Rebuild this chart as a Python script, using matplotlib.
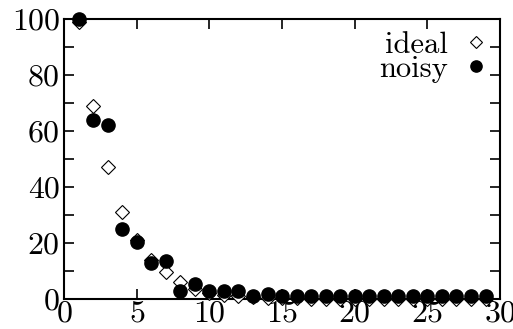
import matplotlib
matplotlib.use("Agg")
import matplotlib.pyplot as plt

plt.rcParams['font.family'] = ['cmr10', 'DejaVu Serif']
plt.rcParams['axes.formatter.use_mathtext'] = True

steps = list(range(1, 30))
ideal = [99, 69, 47, 31, 21, 14, 9.5, 6, 3.5, 2.2, 1.5, 1, 0.6, 0.4, 0.3,
         0.2, 0.1, 0.1, 0, 0, 0, 0, 0, 0, 0, 0, 0, 0, 0]
noisy = [100, 64, 62, 25, 20.5, 13, 13.5, 3, 5.5, 2.8, 2.8, 2.8, 1.2, 1.8, 1.2,
         1.2, 1.2, 1.0, 1.0, 1.0, 1.0, 1.0, 1.0, 1.0, 1.0, 1.0, 1.0, 1.0, 1.0]

fig = plt.figure(figsize=(5.13, 3.29), dpi=100)
ax = fig.add_axes([0.1248, 0.0912, 0.85, 0.851])

ax.plot(steps, ideal, 'D', ms=7, mfc='white', mec='black', mew=0.8,
        label='ideal', clip_on=False, zorder=3)
ax.plot(steps, noisy, 'o', ms=9.5, color='black', label='noisy',
        clip_on=False, zorder=4)

ax.set_xlim(0, 30)
ax.set_ylim(0, 100)
ax.set_xticks(range(0, 31, 5))
ax.set_yticks(range(0, 101, 10))
ax.set_yticklabels([str(v) if v % 20 == 0 else '' for v in range(0, 101, 10)])
ax.tick_params(direction='in', top=True, right=True, length=7, width=1.2,
               labelsize=23, pad=3)
ax.tick_params(axis='x', pad=1)
for s in ax.spines.values():
    s.set_linewidth(1.5)

leg = ax.legend(loc='upper right', frameon=False, markerfirst=False, fontsize=22,
                handlelength=0.8, handletextpad=0.5, labelspacing=-0.1,
                borderaxespad=0.0, borderpad=0.4, markerscale=0.85)

fig.savefig('out.png', dpi=100)
